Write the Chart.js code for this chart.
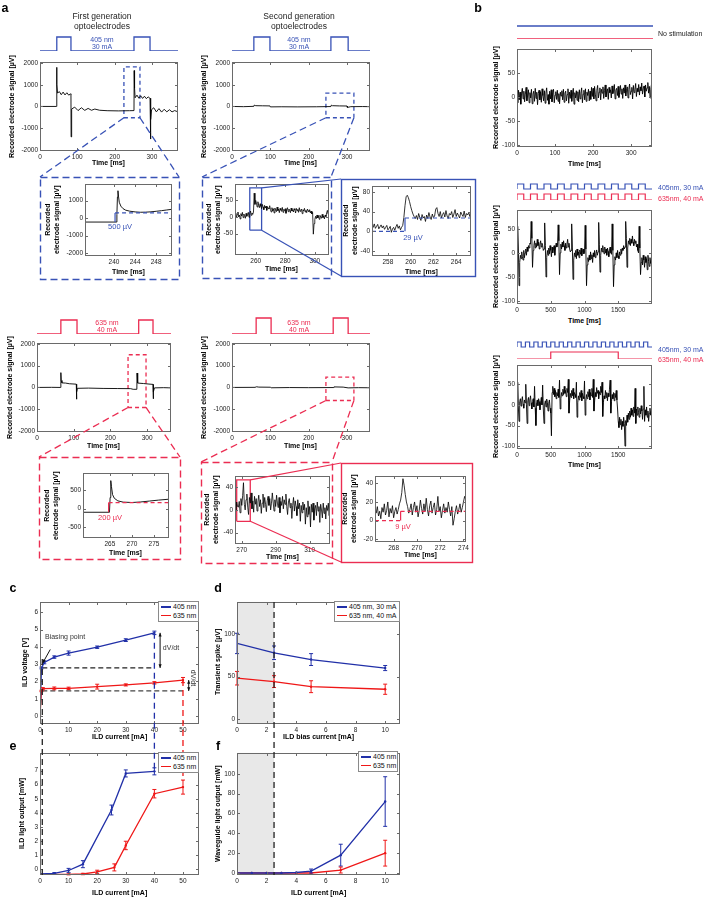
<!DOCTYPE html>
<html>
<head>
<meta charset="utf-8">
<title>Optoelectrode recordings</title>
<script src="https://cdn.jsdelivr.net/npm/chart.js@4.4.1/dist/chart.umd.min.js"></script>
<style>
  html,body{margin:0;padding:0;background:#fff;}
  #page{position:relative;width:709px;height:900px;overflow:hidden;background:#fff;font-family:"Liberation Sans",Arial,Helvetica,sans-serif;}
  #page canvas{position:absolute;}
  .t{position:absolute;white-space:nowrap;line-height:1;color:#222;font-size:7px;}
  .ax{position:absolute;white-space:nowrap;line-height:1.35;color:#000;font-size:7px;font-weight:bold;text-align:center;}
  .lg{position:absolute;background:#fff;border:1px solid #8a8a8a;font-size:7px;color:#111;box-sizing:border-box;padding:1px 2px;}
  .lg div{height:8.5px;line-height:8.5px;white-space:nowrap;}
  .lg span{display:inline-block;width:10px;height:1.5px;vertical-align:middle;margin-right:2px;}
</style>
</head>
<body>
<div id="page"></div>
<script>
// ---------- data: panel a, main recordings (time ms, signal uV) ----------
const mainTicksX=[0,100,200,300];
const mainTicksY=[-2000,-1000,0,1000,2000];

const a1Trace=[[0,0],[44,0],[44.5,1800],[45.5,1000],[47,620],[52,680],[57,540],[62,660],[67,530],[72,630],[77,520],[82,580],[83,560],[83.4,-1400],[84.2,-600],[85.5,-120],[93,-30],[102,-190],[111,-60],[120,-180],[129,-90],[138,-175],[147,-120],[160,-175],[180,-195],[210,-205],[240,-195],[252,-190],[252.5,1650],[253.5,850],[255,400],[260,520],[265,380],[270,490],[275,370],[280,470],[285,360],[290,440],[295,370],[296,380],[296.5,-1500],[297.5,-600],[299,-150],[305,-60],[312,-250],[319,-100],[326,-260],[333,-130],[340,-250],[347,-150],[354,-250],[361,-190],[370,-250]];
const a2Trace=[[0,0],[30,-10],[57,5],[58,60],[62,35],[80,30],[99,25],[100,-20],[130,-15],[170,-20],[220,-15],[258,-5],[259,60],[262,35],[280,25],[300,20],[301,-45],[310,-10],[340,-5],[360,-10]];
const a3Trace=[[0,0],[40,5],[64.5,0],[65,680],[66,320],[68,210],[78,200],[88,170],[98,160],[107,150],[107.5,-540],[108.5,-200],[110,-40],[140,-30],[180,-45],[220,-50],[255,-55],[262,-85],[272,-85],[272.5,660],[273.5,320],[275,200],[290,180],[305,155],[316,140],[316.5,-520],[317.5,-200],[320,-20],[345,-10],[365,-20]];
const a4Trace=[[0,0],[60,5],[64,30],[70,15],[100,10],[102,-15],[150,-5],[200,-10],[264,-5],[266,25],[290,15],[303,-20],[330,-10],[360,-15]];

// zoom windows [t0, t1, vMin, vMax]
const a1Zoom=[225,268,-520,1820];
const a2Zoom=[245,318,-520,610];
const a3Zoom=[248,297,-920,1500];
const a4Zoom=[245,318,-600,470];
const in2Zoom=[256,264,-40,88];
const in5Zoom=[267,275,-20,53];

// stimulation pulses [on, off] in ms
const stimA1=[[45,83],[252,295]];
const stimA2=[[57,99],[258,303]];
const stimA3=[[65,109],[277,316]];
const stimA4=[[63,102],[264,303]];

// ---------- insets ----------
const in1Trace=[[234.5,-230],[240.45,-230],[240.55,200],[240.65,1200],[240.75,1560],[240.85,1250],[241,900],[241.3,680],[241.7,540],[242.2,450],[243,390],[244,350],[245,330],[246,335],[247,355],[248,385],[249,420],[250,460],[251,500]];
const in1Step=[[240.2,-230],[240.2,290],[251,290]];

const in2T0=246, in2Dt=0.5;
const in2Vals=[5,12,-3,8,15,0,6,-6,10,3,14,-2,9,4,-4,11,2,7,
  14,-1,10,18,5,12,8,15,
  72,
  38,50,42,30,46,
  36,28,40,32,25,38,30,22,35,27,33,20,31,26,24,34,
  22,15,28,18,25,12,27,20,16,30,19,24,13,26,21,17,29,14,23,19,25,11,22,28,16,24,20,13,27,18,22,15,25,21,12,26,19,23,14,28,17,21,24,10,22,18,26,15,20,13,24,19,16,22,12,18,9,14,
  -52,-20,-8,2,-5,6,-3,4,-7,5,0,-4,8,-2,3,-6,6,1,12,20,8,25];

const in3T0=256.6, in3Dt=0.1;
const in3Vals=[12,8,15,6,10,14,5,9,13,7,11,4,8,12,3,6,10,-2,5,8,2,9,14,6,11,3,8,12,
  28,52,70,73,68,60,50,42,35,30,26,
  32,24,36,28,22,34,27,30,20,33,26,38,29,24,35,28,31,45,48,36,30,40,27,34,38,29,42,31,26,36,33,40,28,35,44,30,37,32,27,39,34,30,41,28,36,33,38,30,42];
const in3Step=[[256.6,0],[259.5,0],[259.5,27],[265.3,27]];

const in4Trace=[[258.9,-100],[264.9,-100],[265.05,300],[265.2,760],[265.35,600],[265.6,380],[266,280],[266.8,210],[268,175],[270,165],[272,180],[274,205],[276,230],[278.4,255]];
const in4Step=[[264.7,-100],[264.7,160],[278.4,160]];

const in5T0=266, in5Dt=0.5;
const in5Vals=[10,-2,14,6,5,15,-5,20,8,25,48,10,0,18,28,5,-8,22,12,30,2,16,-4,24,10,20,-2,14,26,6,18,-6,12,28,4,22,10,-3,16,24,8,20,0,12,30,14,-2,18,6,26,12,4,22,-5,15,8,24,2,18,10,28,6,-8,14,20,4,12,-15,8,22,-2,16,6,-10,18,2,12,-20,8,-5,14,0,10,-25,4,-12,16,-8,6,-30,10,-4,12,-18,2,8,-10,14,-2,6,-22,10,0,-14,12,-6,4,-16,8,-2,12,-10,6,16,0,10,4,14];

const in6T0=266.4, in6Dt=0.1;
const in6Vals=[12,8,15,5,10,2,14,9,18,6,11,20,4,13,8,16,3,10,14,7,
  12,18,22,30,45,38,28,20,15,8,
  12,18,6,14,20,9,16,4,11,22,13,7,18,10,24,12,5,16,21,8,14,19,6,12,26,10,15,3,11,18,8,14,9,20,12,5,15,-5,2,10,16,7,12,18,9,14,20,26,22];
const in6Step=[[266.4,0],[268.6,0],[268.6,10],[274.2,10]];

// ---------- panel b ----------
const b1T0=0, b1Dt=2;
const b1Vals=[2,-12,14,-6,10,-15,8,18,-4,12,-10,6,20,-8,4,15,-12,9,-2,16,
  -14,6,12,-9,18,-3,10,-16,7,14,-6,11,-11,17,3,-8,13,-13,8,19,
  -7,5,-15,12,-4,15,-10,9,16,-12,4,11,-5,14,-9,7,-14,10,2,13,
  -6,16,-11,8,12,-8,5,17,-13,10,-3,14,-9,6,18,-15,9,-2,13,-7,
  11,-10,15,-4,8,19,-12,6,14,-6,17,-9,10,3,16,-8,12,-5,20,1,
  18,-4,22,6,-8,14,24,-2,10,19,-6,16,8,21,-3,13,25,0,11,17,
  -5,20,9,15,-2,23,7,12,26,-4,14,18,3,22,-1,10,24,6,17,-3,
  19,8,25,2,14,21,-2,16,27,5,12,20,-4,24,9,15,28,1,18,11,
  26,4,21,13,29,6,17,23,0,25,12,19,30,8,22,-2,16,28];

const b2T0=0, b2Dt=10;
const b2Vals=[0,55,10,-68,-20,-5,-12,2,-8,-15,5,-10,0,8,-5,12,3,15,10,20,
  18,65,30,-30,5,15,25,10,20,12,28,15,22,8,18,25,12,20,15,5,
  8,62,15,-50,-10,5,-5,10,-2,15,5,-8,12,0,8,15,-5,10,20,12,
  15,58,25,-45,0,18,8,22,12,25,15,5,20,10,18,28,12,20,8,2,
  5,60,12,-55,-15,0,-8,5,-12,8,-5,2,-10,6,-3,10,-6,4,8,-2,
  0,57,8,-68,-25,-10,-18,-5,-15,2,-12,-4,-20,0,-8,5,-10,-2,6,-5,
  2,63,18,-40,-5,10,2,15,5,-2,12,0,8,-5,10,3,-8,6,12,0,
  -3,60,5,-70,-25,-8,-15,0,-10,5,-6,-12,2,-5,8,-2,10,5,15,8,
  12,65,30,-30,10,25,18,30,15,28,20,35,22,15,28,20,25,12,18,5,
  0,55,10,-45,-20,-10,-25,-5,-15,-30,-8,-20,-12,-35,-5,-18,-28,-10,-22,-15,-20];

const b3T0=0, b3Dt=10;
const b3Vals=[5,55,-5,-40,8,15,-3,10,20,2,-8,12,5,50,0,-45,10,18,-2,12,
  22,5,-10,8,15,-5,45,-8,-50,5,12,-2,15,8,-12,6,18,0,48,-10,
  -45,2,10,-5,14,6,-15,4,12,-8,-20,-75,30,45,25,40,20,35,15,30,
  22,38,18,60,-10,15,30,22,38,25,45,28,35,20,40,30,62,-20,10,28,
  18,35,22,40,15,30,25,18,55,-30,5,22,12,30,18,35,10,28,20,15,
  58,-25,8,25,15,32,20,38,12,30,22,40,18,62,-15,10,30,20,42,28,
  35,15,32,25,45,30,55,-28,5,22,15,35,18,30,10,28,20,38,60,-20,
  8,25,15,30,10,28,18,35,12,-10,-40,-55,-30,-48,-35,-60,-40,-52,-30,-45,
  -100,-38,-50,-25,-42,-20,-35,-15,-30,-8,-25,-12,-28,-5,-20,40,-45,-10,-25,-5,
  -18,-30,-8,-22,-2,-15,-35,-10,45,-40,-12,-25,-5,-30,-15,-40,-20,-8,-25,-15,-20];

const b2Pulses=[[0,100],[200,300],[400,500],[600,700],[800,900],[1000,1100],[1200,1300],[1400,1500],[1600,1700],[1800,1900]];
const b3BluePulses=[[0,62],[125,187],[250,312],[375,437],[500,562],[625,687],[750,812],[875,937],[1000,1062],[1125,1187],[1250,1312],[1375,1437],[1500,1562],[1625,1687],[1750,1812],[1875,1937]];
const b3RedPulses=[[500,1500]];

// ---------- panel c (ILD voltage vs current) ----------
const cCur405=[0,0.5,1.5,5,10,20,30,40];
const cVolt405=[0,2.78,3.1,3.41,3.64,3.98,4.39,4.81];
const cErr405=[0,0.05,0.08,0.07,0.12,0.07,0.08,0.1];
const cCur635=[0,0.5,1,5,10,20,30,40,50];
const cVolt635=[0,1.45,1.58,1.6,1.6,1.7,1.8,1.92,2.08];
const cErr635=[0,0.04,0.06,0.08,0.07,0.14,0.06,0.07,0.15];

// ---------- panel d (transient spike vs bias) ----------
const dBias=[0,2.5,5,10];
const dSpike405=[89,78,70,60];
const dErr405=[12,8,7,3];
const dSpike635=[48,44,38,35];
const dErr635=[8,7,7,6];

// ---------- panel e (ILD light output) ----------
const eCur405=[0,5,10,15,25,30,40];
const eOut405=[-0.35,-0.3,-0.1,0.35,4.2,6.8,6.95];
const eErr405=[0,0.05,0.15,0.25,0.35,0.25,0.25];
const eCur635=[0,10,15,20,26,30,40,50];
const eOut635=[-0.38,-0.38,-0.35,-0.2,0.12,1.68,5.36,5.83];
const eErr635=[0,0.03,0.05,0.12,0.25,0.3,0.3,0.5];

// ---------- panel f (waveguide light output) ----------
const fCur=[0,1,2,3,4,5,7,10];
const fOut405=[0,0,0,0,0.5,2,18,72];
const fErr405=[0,0,0,0,0,2,11,25];
const fOut635=[0,0,0,0,0,0,3,20];
const fErr635=[0,0,0,0,0,0,3,13];

// ---------- drawing ----------
const BLUE_A='#3852b6', RED_A='#eb2d52';
const BLUE='#2130a8', RED='#ef1717';
const page=document.getElementById('page');
Chart.defaults.font.family='"Liberation Sans", Arial, Helvetica, sans-serif';

const xy=pairs=>pairs.map(p=>({x:p[0],y:p[1]}));
const sampled=(t0,dt,vals)=>vals.map((v,i)=>({x:t0+i*dt,y:v}));
const zipXY=(xs,ys)=>xs.map((x,i)=>({x,y:ys[i]}));
const rect=r=>[{x:r[0],y:r[2]},{x:r[1],y:r[2]},{x:r[1],y:r[3]},{x:r[0],y:r[3]},{x:r[0],y:r[2]}];
function steps(pulses,x0,x1,lo,hi){
  const p=[{x:x0,y:lo}];
  pulses.forEach(([a,b])=>{p.push({x:a,y:lo},{x:a,y:hi},{x:b,y:hi},{x:b,y:lo});});
  p.push({x:x1,y:lo});
  return p;
}
function line(data,color,w,dash,extra){
  return Object.assign({data,borderColor:color,backgroundColor:color,borderWidth:w||1,borderDash:dash||[],pointRadius:0,fill:false,tension:0},extra||{});
}

// matlab style box + inward ticks, error bars, shading, arrows
const matlabPlug={
  id:'matlab',
  beforeDatasetsDraw(ch){
    const s=ch.data.shade; if(!s) return;
    const {top,bottom}=ch.chartArea, x=ch.scales.x;
    const x0=x.getPixelForValue(s[0]), x1=x.getPixelForValue(s[1]);
    ch.ctx.save(); ch.ctx.fillStyle='#e8e8e8'; ch.ctx.fillRect(x0,top,x1-x0,bottom-top); ch.ctx.restore();
  },
  afterDatasetsDraw(ch){
    const g=ch.ctx, xs=ch.scales.x, ys=ch.scales.y;
    ch.data.datasets.forEach((ds,i)=>{
      if(!ds.err) return;
      const m=ch.getDatasetMeta(i);
      g.save(); g.strokeStyle=ds.borderColor; g.lineWidth=1; g.beginPath();
      m.data.forEach((p,j)=>{
        const e=ds.err[j]; if(!e) return;
        const v=ds.data[j].y, y1=ys.getPixelForValue(v-e), y2=ys.getPixelForValue(v+e);
        g.moveTo(p.x,y1); g.lineTo(p.x,y2);
        g.moveTo(p.x-2,y1); g.lineTo(p.x+2,y1); g.moveTo(p.x-2,y2); g.lineTo(p.x+2,y2);
      });
      g.stroke(); g.restore();
    });
    (ch.data.arrows||[]).forEach(a=>{
      const x1=xs.getPixelForValue(a[0]), y1=ys.getPixelForValue(a[1]);
      const x2=xs.getPixelForValue(a[2]), y2=ys.getPixelForValue(a[3]);
      g.save(); g.strokeStyle='#111'; g.fillStyle='#111'; g.lineWidth=1;
      g.beginPath(); g.moveTo(x1,y1); g.lineTo(x2,y2); g.stroke();
      const head=(xa,ya,xb,yb)=>{const an=Math.atan2(yb-ya,xb-xa);
        g.beginPath(); g.moveTo(xb,yb);
        g.lineTo(xb-4*Math.cos(an-0.4),yb-4*Math.sin(an-0.4));
        g.lineTo(xb-4*Math.cos(an+0.4),yb-4*Math.sin(an+0.4)); g.closePath(); g.fill();};
      head(x1,y1,x2,y2); if(a[4]) head(x2,y2,x1,y1);
      g.restore();
    });
    if(!ch.data.box) return;
    const {left,right,top,bottom}=ch.chartArea;
    const L=Math.round(left)+.5,R=Math.round(right)-.5,T=Math.round(top)+.5,B=Math.round(bottom)-.5;
    g.save(); g.strokeStyle='#6a6a6a'; g.lineWidth=1;
    g.strokeRect(L,T,R-L,B-T);
    g.beginPath();
    xs.ticks.forEach(t=>{const x=Math.round(xs.getPixelForValue(t.value))+.5;g.moveTo(x,B);g.lineTo(x,B-2.5);g.moveTo(x,T);g.lineTo(x,T+2.5);});
    ys.ticks.forEach(t=>{const y=Math.round(ys.getPixelForValue(t.value))+.5;g.moveTo(L,y);g.lineTo(L+2.5,y);g.moveTo(R,y);g.lineTo(R-2.5,y);});
    g.stroke(); g.restore();
  }
};
Chart.register(matlabPlug);

// axis titles as page text, placed on whole pixels so the rotated ones stay sharp
function axisText(lines,x,y,rot){
  const d=document.createElement('div'); d.className='ax';
  [].concat(lines).forEach((s,i)=>{if(i) d.appendChild(document.createElement('br')); d.appendChild(document.createTextNode(s));});
  page.appendChild(d);
  const w=d.offsetWidth, h=d.offsetHeight;
  x=Math.round(x); y=Math.round(y);
  d.style.left=x+'px'; d.style.top=y+'px'; d.style.transformOrigin='0 0';
  d.style.transform=(rot?'rotate(-90deg) ':'')+'translate('+(-Math.round(w/2))+'px,'+(-Math.round(h/2))+'px)';
}

// box = plot area [x,y,w,h] on the page; yx = centre x of y title; xo = drop of x title below the box
function plot(box,o){
  const pl=o.bare?0:28, pb=o.bare?0:12, pt=o.pt??4, pr=o.pr??4;
  const W=box[2]+pl+pr, H=box[3]+pt+pb;
  const cv=document.createElement('canvas');
  cv.width=W; cv.height=H;
  cv.style.left=(box[0]-pl)+'px'; cv.style.top=(box[1]-pt)+'px';
  page.appendChild(cv);
  const ax=(r,t,isX)=>({type:'linear',min:r[0],max:r[1],display:!o.bare,
    afterBuildTicks:s=>{s.ticks=(t||[]).map(v=>({value:v}));},
    afterFit:s=>{if(isX) s.height=pb; else s.width=pl;},
    grid:{display:false,drawTicks:false},border:{display:false},
    ticks:{color:'#222',font:{size:6.5},padding:2,autoSkip:false,maxRotation:0,callback:v=>String(v)}});
  const ch=new Chart(cv,{type:'line',
    data:{datasets:o.ds,box:!o.bare,shade:o.shade,arrows:o.arrows},
    options:{responsive:false,animation:false,events:[],
      layout:{padding:{left:0,top:pt,right:pr,bottom:0}},
      scales:{x:ax(o.xr,o.xt,true),y:ax(o.yr,o.yt,false)},
      plugins:{legend:{display:false},tooltip:{enabled:false}}}});
  ch.$l=box[0]-pl; ch.$t=box[1]-pt;
  if(o.xl) axisText(o.xl,box[0]+box[2]/2,box[1]+box[3]+o.xo,false);
  if(o.yl) axisText(o.yl,o.yx,box[1]+box[3]/2,true);
  return ch;
}
const REC='Recorded electrode signal [µV]';
const REC2=['Recorded','electrode signal [µV]'];
const TIME='Time [ms]';
const stimDs=(p,x1,c)=>[line(steps(p,0,x1,0,1),c,1.3,[],{clip:false})];

// ----- panel a -----
plot([40,37,138,14],{bare:1,xr:[0,370],yr:[0,1],ds:stimDs(stimA1,370,BLUE_A)});
plot([232,37,138,14],{bare:1,xr:[0,360],yr:[0,1],ds:stimDs(stimA2,360,BLUE_A)});
plot([37,320,134,14],{bare:1,xr:[0,365],yr:[0,1],ds:stimDs(stimA3,365,RED_A)});
plot([232,318,138,16],{bare:1,xr:[0,360],yr:[0,1],ds:stimDs(stimA4,360,RED_A)});

const A1=plot([40,60,138,91],{yx:12,xo:12,xr:[0,370],yr:[-2050,2050],xt:mainTicksX,yt:mainTicksY,xl:TIME,yl:REC,
  ds:[line(xy(a1Trace),'#000',0.9),line(rect(a1Zoom),BLUE_A,1.3,[4,3])]});
const A2=plot([232,60,138,91],{yx:204,xo:12,xr:[0,360],yr:[-2050,2050],xt:mainTicksX,yt:mainTicksY,xl:TIME,yl:REC,
  ds:[line(xy(a2Trace),'#000',0.9),line(rect(a2Zoom),BLUE_A,1.3,[4,3])]});
const A3=plot([37,341,134,91],{yx:10,xo:14,xr:[0,365],yr:[-2045,2045],xt:mainTicksX,yt:mainTicksY,xl:TIME,yl:REC,
  ds:[line(xy(a3Trace),'#000',0.9),line(rect(a3Zoom),RED_A,1.3,[4,3])]});
const A4=plot([232,341,138,91],{yx:204,xo:14,xr:[0,360],yr:[-2045,2045],xt:mainTicksX,yt:mainTicksY,xl:TIME,yl:REC,
  ds:[line(xy(a4Trace),'#000',0.9),line(rect(a4Zoom),RED_A,1.3,[4,3])]});

plot([85,182,87,74],{yx:53,xo:16,xr:[234.5,251],yr:[-2170,1950],xt:[240,244,248],yt:[-2000,-1000,0,1000],xl:TIME,yl:REC2,
  ds:[line(xy(in1Step.slice(0,2)),BLUE_A,1.2),line(xy(in1Step.slice(1)),BLUE_A,1.2,[4,3]),line(xy(in1Trace),'#000',0.9)]});
const I2=plot([235,182,94,73],{yx:214,xo:14,xr:[246,309.6],yr:[-115,100],xt:[260,280,300],yt:[-50,0,50],xl:TIME,yl:REC2,
  ds:[line(sampled(in2T0,in2Dt,in2Vals),'#000',0.8),line(rect(in2Zoom),BLUE_A,1.3)]});
plot([372,184,99,72],{yx:351,xo:16,xr:[256.6,265.3],yr:[-50,92],xt:[258,260,262,264],yt:[-40,0,40,80],xl:TIME,yl:REC2,
  ds:[line(xy(in3Step.slice(0,2)),BLUE_A,1.2,[4,3]),line(xy(in3Step.slice(1,3)),BLUE_A,1.2),line(xy(in3Step.slice(2)),BLUE_A,1.2,[4,3]),
      line(sampled(in3T0,in3Dt,in3Vals),'#000',0.8)]});

plot([83,471,86,67],{yx:52,xo:15,xr:[258.9,278.4],yr:[-800,970],xt:[265,270,275],yt:[-500,0,500],xl:TIME,yl:REC2,
  ds:[line(xy(in4Step.slice(0,2)),RED_A,1.2),line(xy(in4Step.slice(1)),RED_A,1.2,[4,3]),line(xy(in4Trace),'#000',0.9)]});
const I5=plot([235,474,95,70],{yx:212,xo:13,xr:[266,322],yr:[-60,60],xt:[270,290,310],yt:[-40,0,40],xl:TIME,yl:REC2,
  ds:[line(sampled(in5T0,in5Dt,in5Vals),'#000',0.8),line(rect(in5Zoom),RED_A,1.3)]});
plot([375,474,92,68],{yx:350,xo:13,xr:[266.4,274.2],yr:[-23,48],xt:[268,270,272,274],yt:[-20,0,20,40],xl:TIME,yl:REC2,
  ds:[line(xy(in6Step.slice(0,2)),RED_A,1.2,[4,3]),line(xy(in6Step.slice(1,3)),RED_A,1.2),line(xy(in6Step.slice(2)),RED_A,1.2,[4,3]),
      line(sampled(in6T0,in6Dt,in6Vals),'#000',0.8)]});

// ----- panel b -----
const bY=[-100,-50,0,50];
plot([517,26,136,13],{bare:1,xr:[0,355],yr:[0,13],ds:[line(steps([],0,355,13,13),BLUE_A,1.3,[],{clip:false}),line(steps([],0,355,0,0),RED_A,1.3,[],{clip:false})]});
plot([517,184,135,16],{bare:1,xr:[0,2000],yr:[0,16],ds:[line(steps(b2Pulses,0,2000,11,16),BLUE_A,1.2,[],{clip:false}),line(steps(b2Pulses,0,2000,0,6),RED_A,1.2,[],{clip:false})]});
plot([517,342,135,17],{bare:1,xr:[0,2000],yr:[0,17],ds:[line(steps(b3BluePulses,0,2000,12,17),BLUE_A,1.2,[],{clip:false}),line(steps(b3RedPulses,0,2000,0,7),RED_A,1.2,[],{clip:false})]});
plot([517,47,135,100],{yx:496,xo:17,xr:[0,355],yr:[-104,100],xt:[0,100,200,300],yt:bY,xl:TIME,yl:REC,
  ds:[line(sampled(b1T0,b1Dt,b1Vals),'#000',0.9)]});
plot([517,208,135,96],{yx:496,xo:17,xr:[0,2000],yr:[-106,89],xt:[0,500,1000,1500],yt:bY,xl:TIME,yl:REC,
  ds:[line(sampled(b2T0,b2Dt,b2Vals),'#000',0.9)]});
plot([517,363,135,86],{yx:496,xo:16,xr:[0,2000],yr:[-107,97],xt:[0,500,1000,1500],yt:bY,xl:TIME,yl:REC,
  ds:[line(sampled(b3T0,b3Dt,b3Vals),'#000',0.9)]});

// ----- panels c-f -----
const pts=(c)=>({pointRadius:1.2,pointBackgroundColor:c,pointBorderWidth:0});
const C=plot([40,600,159,124],{yx:25,xo:13,xr:[0,55.6],yr:[-0.46,6.6],xt:[0,10,20,30,40,50],yt:[0,1,2,3,4,5,6],xl:'ILD current [mA]',yl:'ILD voltage [V]',
  arrows:[[3.6,3.85,0.9,3.05,0],[42,4.81,42,2.78,1],[52,2.08,52,1.45,1]],
  ds:[line([{x:0.8,y:2.78},{x:40,y:2.78}],'#222',1.2,[5,3]),line([{x:0.8,y:1.45},{x:50,y:1.45}],'#444',1.2,[5,3]),
      line(zipXY(cCur405,cVolt405),BLUE,1.3,[],Object.assign({err:cErr405},pts(BLUE))),
      line(zipXY(cCur635,cVolt635),RED,1.3,[],Object.assign({err:cErr635},pts(RED)))]});
const D=plot([237,600,163,124],{yx:218,xo:13,xr:[0,11],yr:[-6,138],xt:[0,2,4,6,8,10],yt:[0,50,100],xl:'ILD bias current [mA]',yl:'Transient spike [µV]',
  shade:[0,2.5],
  ds:[line(zipXY(dBias,dSpike405),BLUE,1.3,[],Object.assign({err:dErr405},pts(BLUE))),
      line(zipXY(dBias,dSpike635),RED,1.3,[],Object.assign({err:dErr635},pts(RED)))]});
const E=plot([40,751,159,124],{yx:22,xo:18,xr:[0,55.6],yr:[-0.42,8.26],xt:[0,10,20,30,40,50],yt:[0,1,2,3,4,5,6,7],xl:'ILD current [mA]',yl:'ILD light output [mW]',
  ds:[line(zipXY(eCur405,eOut405),BLUE,1.3,[],Object.assign({err:eErr405},pts(BLUE))),
      line(zipXY(eCur635,eOut635),RED,1.3,[],Object.assign({err:eErr635},pts(RED)))]});
const F=plot([237,751,163,124],{yx:218,xo:18,xr:[0,11],yr:[-2,121],xt:[0,2,4,6,8,10],yt:[0,20,40,60,80,100],xl:'ILD current [mA]',yl:'Waveguide light output [mW]',
  shade:[0,2.5],
  ds:[line(zipXY(fCur,fOut405),BLUE,1.3,[],Object.assign({err:fErr405},pts(BLUE))),
      line(zipXY(fCur,fOut635),RED,1.3,[],Object.assign({err:fErr635},pts(RED)))]});

// ----- overlay: zoom frames, connectors, cross-panel guides -----
const ov=document.createElement('canvas');
ov.width=709; ov.height=900; ov.style.left='0px'; ov.style.top='0px';
page.appendChild(ov);
const g=ov.getContext('2d');
const P=(ch,x,y)=>[ch.$l+ch.scales.x.getPixelForValue(x), ch.$t+ch.scales.y.getPixelForValue(y)];
function seg(a,b,color,w,dash){g.save();g.strokeStyle=color;g.lineWidth=w;g.setLineDash(dash||[]);g.beginPath();g.moveTo(a[0],a[1]);g.lineTo(b[0],b[1]);g.stroke();g.restore();}
function frame(r,color,dash){g.save();g.strokeStyle=color;g.lineWidth=1.4;g.setLineDash(dash||[]);g.strokeRect(r[0]+.5,r[1]+.5,r[2]-r[0],r[3]-r[1]);g.restore();}
const DASH=[7,4];
frame([40,177,179,279],BLUE_A,DASH);
frame([202,177,331,278],BLUE_A,DASH);
frame([341,179,475,276],BLUE_A);
frame([39,457,180,559],RED_A,DASH);
frame([201,462,332,563],RED_A,DASH);
frame([341,463,472,562],RED_A);
seg(P(A1,a1Zoom[0],a1Zoom[2]),[40,177],BLUE_A,1.3,DASH);
seg(P(A1,a1Zoom[1],a1Zoom[2]),[179,177],BLUE_A,1.3,DASH);
seg(P(A2,a2Zoom[0],a2Zoom[2]),[202,177],BLUE_A,1.3,DASH);
seg(P(A2,a2Zoom[1],a2Zoom[2]),[331,177],BLUE_A,1.3,DASH);
seg(P(A3,a3Zoom[0],a3Zoom[2]),[39,457],RED_A,1.3,DASH);
seg(P(A3,a3Zoom[1],a3Zoom[2]),[180,457],RED_A,1.3,DASH);
seg(P(A4,a4Zoom[0],a4Zoom[2]),[201,462],RED_A,1.3,DASH);
seg(P(A4,a4Zoom[1],a4Zoom[2]),[332,462],RED_A,1.3,DASH);
seg(P(I2,in2Zoom[1],in2Zoom[3]),[341,179],BLUE_A,1.2);
seg(P(I2,in2Zoom[1],in2Zoom[2]),[341,276],BLUE_A,1.2);
seg(P(I5,in5Zoom[1],in5Zoom[3]),[341,463],RED_A,1.2);
seg(P(I5,in5Zoom[1],in5Zoom[2]),[341,562],RED_A,1.2);
seg(P(C,40,4.81),P(E,40,6.95),BLUE,1.3,[6,4]);
seg(P(C,50,2.08),P(E,50,6.3),RED,1.3,[6,4]);
seg(P(C,0.8,3.3),P(E,0.8,-0.42),'#222',1.3,[6,4]);
seg(P(D,2.5,138),P(F,2.5,-2),'#222',1.3,[6,4]);

// ----- text -----
function txt(s,x,y,o){
  o=o||{};
  const d=document.createElement('div'); d.className='t'; d.textContent=s;
  d.style.left=x+'px'; d.style.top=y+'px';
  if(o.s) d.style.fontSize=o.s+'px';
  if(o.b) d.style.fontWeight='bold';
  if(o.c) d.style.color=o.c;
  d.style.transform=(o.a==='l'?'translate(0,-50%)':'translate(-50%,-50%)')+(o.r?' rotate('+o.r+'deg)':'');
  page.appendChild(d);
}
function legend(x,y,w,items){
  const d=document.createElement('div'); d.className='lg';
  d.style.left=x+'px'; d.style.top=y+'px'; d.style.width=w+'px';
  items.forEach(([s,c])=>{const r=document.createElement('div');const sp=document.createElement('span');sp.style.background=c;r.appendChild(sp);r.appendChild(document.createTextNode(s));d.appendChild(r);});
  page.appendChild(d);
}
[['a',5,8],['b',478,8],['c',13,588],['d',218,588],['e',13,746],['f',218,746]].forEach(([s,x,y])=>txt(s,x,y,{s:12.5,b:1,c:'#000'}));
txt('First generation',102,16,{s:8.5}); txt('optoelectrodes',102,26,{s:8.5});
txt('Second generation',299,16,{s:8.5}); txt('optoelectrodes',299,26,{s:8.5});
txt('405 nm',102,39,{c:BLUE_A}); txt('30 mA',102,46,{c:BLUE_A});
txt('405 nm',299,39,{c:BLUE_A}); txt('30 mA',299,46,{c:BLUE_A});
txt('635 nm',107,322,{c:RED_A}); txt('40 mA',107,329,{c:RED_A});
txt('635 nm',299,322,{c:RED_A}); txt('40 mA',299,329,{c:RED_A});
txt('No stimulation',658,33,{a:'l'});
txt('405nm, 30 mA',658,187,{a:'l',c:BLUE_A}); txt('635nm, 40 mA',658,198,{a:'l',c:RED_A});
txt('405nm, 30 mA',658,349,{a:'l',c:BLUE_A}); txt('635nm, 40 mA',658,359,{a:'l',c:RED_A});
txt('500 µV',120,227,{c:BLUE_A,s:7.5}); txt('29 µV',413,238,{c:BLUE_A,s:7.5});
txt('200 µV',110,518,{c:RED_A,s:7.5}); txt('9 µV',403,527,{c:RED_A,s:7.5});
txt('Biasing point',45,636,{a:'l',c:'#333'});
txt('dV/dt',171,647,{c:'#333'}); txt('dV/dt',193,678,{c:'#333',r:90});
legend(158,601,41,[['405 nm',BLUE],['635 nm',RED]]);
legend(334,601,66,[['405 nm, 30 mA',BLUE],['635 nm, 40 mA',RED]]);
legend(158,752,41,[['405 nm',BLUE],['635 nm',RED]]);
legend(358,751,40,[['405 nm',BLUE],['635 nm',RED]]);
</script>
</body>
</html>
